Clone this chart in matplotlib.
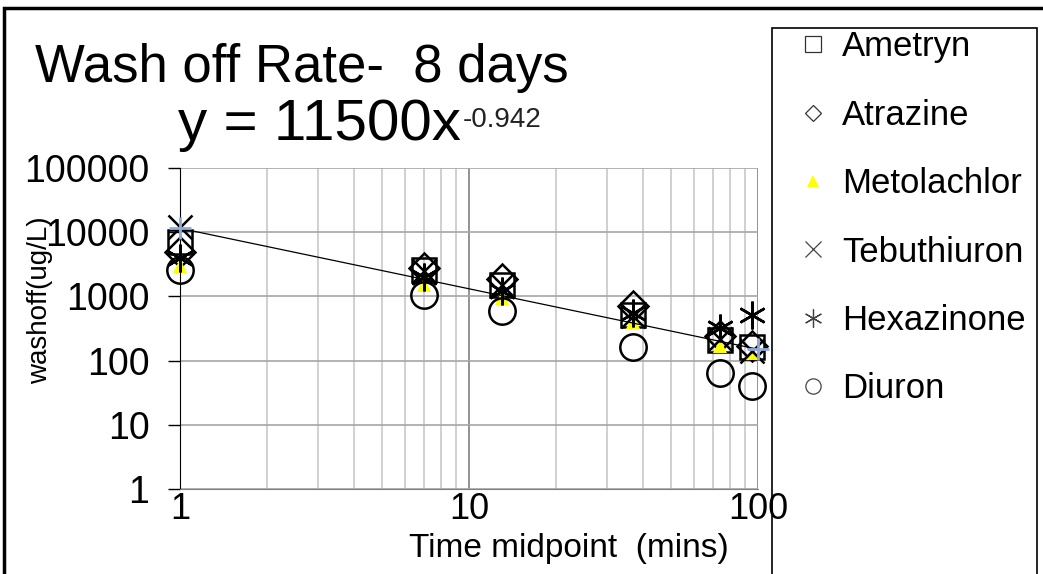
import matplotlib
matplotlib.use("Agg")
import matplotlib.pyplot as plt
import numpy as np
from matplotlib.lines import Line2D
from matplotlib.patches import Rectangle
from matplotlib.ticker import FixedLocator, FixedFormatter, LogLocator, NullFormatter

plt.rcParams['font.family'] = ['Liberation Sans', 'DejaVu Sans']

# ---------------- data ----------------
times = [1, 7, 13, 37, 74, 95]
ametryn = [7000, 2600, 1500, 520, 210, 160]
atrazine = [5000, 2800, 1900, 700, 240, 170]
metolachlor = [3000, 1500, 950, 400, 170, 130]
tebuthiuron = [12000, 2500, 1500, 500, 220, 140]
hexazinone = [4000, 2000, 1200, 550, 320, 520]
diuron = [2600, 1050, 600, 160, 65, 40]

fit_coef = 11500
fit_exp = -0.942
fit_x = [1, 100]

x_ticks = [1, 10, 100]
x_tick_labels = ['1', '10', '100']
y_ticks = [1, 10, 100, 1000, 10000, 100000]
y_tick_labels = ['1', '10', '100', '1000', '10000', '100000']

series_names = ['Ametryn', 'Atrazine', 'Metolachlor', 'Tebuthiuron', 'Hexazinone', 'Diuron']

# ---------------- figure ----------------
W, H = 1043, 574
fig = plt.figure(figsize=(W / 100, H / 100), dpi=100)

def fx(px):
    return px / W

def fy(py):
    return 1 - py / H

ax = fig.add_axes([fx(180), fy(489), fx(758) - fx(180), fy(168) - fy(489)])
ax.set_xscale('log')
ax.set_yscale('log')
ax.set_xlim(1, 100)
ax.set_ylim(1, 100000)

# grid
ax.xaxis.set_minor_locator(LogLocator(base=10, subs=np.arange(2, 10)))
ax.xaxis.set_minor_formatter(NullFormatter())
ax.yaxis.set_minor_locator(FixedLocator([]))
ax.grid(which='major', axis='x', color='#808080', linewidth=1.2)
ax.grid(which='major', axis='y', color='#a6a6a6', linewidth=1.2)
ax.grid(which='minor', axis='x', color='#c8c8c8', linewidth=1.2)
ax.set_axisbelow(True)

ax.xaxis.set_major_locator(FixedLocator(x_ticks))
ax.xaxis.set_major_formatter(FixedFormatter(x_tick_labels))
ax.yaxis.set_major_locator(FixedLocator(y_ticks))
ax.yaxis.set_major_formatter(FixedFormatter(y_tick_labels))
ax.tick_params(axis='y', which='major', labelsize=27, length=9, width=1,
               color='black', direction='out', pad=13)
ax.tick_params(axis='x', which='major', labelsize=26, length=0, pad=2)
ax.tick_params(axis='x', which='minor', length=0)

for s in ['top', 'right']:
    ax.spines[s].set_visible(False)
ax.spines['left'].set_color('black')
ax.spines['bottom'].set_color('#808080')

mk = dict(linestyle='none', markerfacecolor='none', markeredgecolor='black',
          markeredgewidth=1.8, clip_on=False)

ax.plot(times, ametryn, marker='s', markersize=17, **mk)
ax.plot(times, atrazine, marker='D', markersize=15, **mk)
ax.plot(times, metolachlor, marker='^', markersize=10, linestyle='none',
        color='#ffff00', markeredgewidth=0, clip_on=False)
ax.plot(times, tebuthiuron, marker='x', markersize=17, **mk)
ax.plot(times, hexazinone, marker=(6, 2, 0), markersize=20, **mk)
ax.plot(times, diuron, marker='o', markersize=19, **mk)

fit_y = [fit_coef * x ** fit_exp for x in fit_x]
ax.plot(fit_x, fit_y, color='black', linewidth=0.9, zorder=3)
ax.plot(fit_x, fit_y, linestyle='none', marker='+', markersize=16,
        markeredgecolor='#8eaadb', markeredgewidth=2, clip_on=False, zorder=4)

# titles
fig.text(fx(302), fy(68), 'Wash off Rate-  8 days', ha='center', va='center', fontsize=38)
eq = fig.text(fx(178), fy(125), 'y = 11500x', ha='left', va='center', fontsize=42)
fig.canvas.draw()
bb = eq.get_window_extent(fig.canvas.get_renderer())
fig.text(bb.x1 / W + 0.002, bb.y1 / H - 0.016, '-0.942', ha='left', va='top',
         fontsize=20, color='#222222')

fig.text(fx(569), fy(548), 'Time midpoint  (mins)', ha='center', va='center', fontsize=24)
fig.text(fx(40), fy(300), 'washoff(ug/L)', ha='center', va='center', rotation=90, fontsize=20)

# legend
handles = [
    Line2D([], [], linestyle='none', marker='s', markersize=11, markerfacecolor='none',
           markeredgecolor='#333333', markeredgewidth=0.9),
    Line2D([], [], linestyle='none', marker='D', markersize=8, markerfacecolor='none',
           markeredgecolor='#333333', markeredgewidth=0.9),
    Line2D([], [], linestyle='none', marker='^', markersize=9, color='#ffff00',
           markeredgewidth=0),
    Line2D([], [], linestyle='none', marker='x', markersize=11, markeredgecolor='#444444',
           markeredgewidth=0.9),
    Line2D([], [], linestyle='none', marker=(6, 2, 0), markersize=13,
           markeredgecolor='#444444', markeredgewidth=0.9),
    Line2D([], [], linestyle='none', marker='o', markersize=11, markerfacecolor='none',
           markeredgecolor='#444444', markeredgewidth=0.9),
]
leg = fig.legend(handles, series_names, loc='upper left', bbox_to_anchor=(fx(780), fy(13)),
                 frameon=False, fontsize=25, labelspacing=1.02, handlelength=0.9,
                 handletextpad=0.38, borderpad=0)

fig.add_artist(Rectangle((fx(772), fy(600)), fx(1037) - fx(772), fy(28) - fy(600),
                         transform=fig.transFigure, fill=False, edgecolor='black',
                         linewidth=1.2))
fig.add_artist(Rectangle((fx(4), fy(600)), fx(1100) - fx(4), fy(8) - fy(600),
                         transform=fig.transFigure, fill=False, edgecolor='black',
                         linewidth=2.5))

fig.savefig('out.png', dpi=100)
